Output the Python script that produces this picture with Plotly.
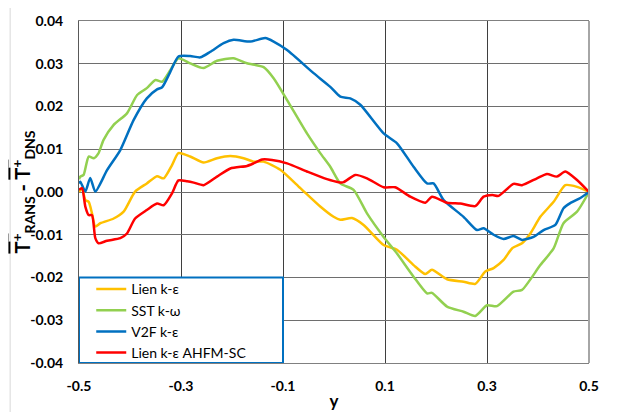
import plotly.graph_objects as go

# ---- data ----
lien_x = [-0.5, -0.494, -0.4876, -0.481, -0.4745, -0.468, -0.458, -0.432, -0.4125, -0.39, -0.367, -0.347,
          -0.334, -0.3176, -0.305, -0.282, -0.2557, -0.2294, -0.2033, -0.1773, -0.1576, -0.138, -0.1053,
          -0.066, -0.027, -0.0008, 0.0124, 0.0353, 0.058, 0.0973, 0.1235, 0.156, 0.179, 0.192, 0.2216,
          0.254, 0.277, 0.2967, 0.313, 0.3325, 0.349, 0.3686, 0.385, 0.4045, 0.4306, 0.4535, 0.4765, 0.5]
lien_y = [0.0, 0.0009, -0.0019, -0.0023, -0.005, -0.0081, -0.0073, -0.0062, -0.0046, 0.0001, 0.002, 0.0037,
          0.0032, 0.0063, 0.0091, 0.0083, 0.0069, 0.0079, 0.0084, 0.0079, 0.0071, 0.0071, 0.0052,
          0.0009, -0.0034, -0.0058, -0.0065, -0.0061, -0.0077, -0.0124, -0.0135, -0.0171, -0.0192, -0.0182, -0.0204,
          -0.0210, -0.0215, -0.0186, -0.0178, -0.0159, -0.0132, -0.0120, -0.0097, -0.0058, -0.0023, 0.0016, 0.0012, 0.0]

sst_x = [-0.5, -0.4975, -0.491, -0.481, -0.471, -0.4616, -0.4518, -0.432, -0.406, -0.386, -0.367, -0.350,
         -0.337, -0.321, -0.305, -0.282, -0.2557, -0.2294, -0.197, -0.1706, -0.138, -0.1184, -0.092, -0.053,
         -0.027, -0.0073, 0.0124, 0.0384, 0.0647, 0.0973, 0.1235, 0.156, 0.1824, 0.192, 0.2216, 0.254, 0.277,
         0.300, 0.3196, 0.352, 0.3686, 0.4045, 0.4306, 0.450, 0.4765, 0.5]
sst_y = [0.003, 0.0036, 0.004, 0.0083, 0.0079, 0.0091, 0.0122, 0.0157, 0.0184, 0.0227, 0.0243, 0.0262,
         0.0258, 0.0285, 0.0313, 0.0301, 0.029, 0.0307, 0.0313, 0.0301, 0.0292, 0.0266, 0.0215, 0.0137,
         0.0091, 0.0059, 0.002, 0.0005, -0.005, -0.0105, -0.0144, -0.0198, -0.0237, -0.0236, -0.0268, -0.0280, -0.0290,
         -0.0265, -0.0267, -0.0233, -0.0229, -0.0171, -0.0132, -0.0073, -0.0046, 0.0]

v2f_x = [-0.5, -0.4975, -0.4876, -0.478, -0.468, -0.445, -0.419, -0.393, -0.367, -0.347, -0.337, -0.321,
         -0.305, -0.282, -0.262, -0.2425, -0.2165, -0.197, -0.164, -0.1347, -0.1184, -0.092, -0.040, -0.0073,
         0.0124, 0.032, 0.0516, 0.0973, 0.1235, 0.156, 0.1824, 0.1953, 0.215, 0.254, 0.2804, 0.2933, 0.313,
         0.3325, 0.352, 0.3686, 0.3914, 0.411, 0.434, 0.450, 0.4633, 0.483, 0.5]
v2f_y = [0.002, 0.0024, 0.0001, 0.0033, 0.0001, 0.0051, 0.0098, 0.0168, 0.0219, 0.024, 0.0245, 0.0281,
         0.0317, 0.0318, 0.0315, 0.0328, 0.0348, 0.0356, 0.0352, 0.036, 0.0352, 0.0332, 0.0278, 0.0246,
         0.0223, 0.0219, 0.0204, 0.0137, 0.0114, 0.0059, 0.002, 0.002, -0.0019, -0.0058, -0.0089, -0.0085, -0.0100,
         -0.0110, -0.0103, -0.0112, -0.0105, -0.0089, -0.0077, -0.0038, -0.0026, -0.0014, 0.0]

ahfm_x = [-0.5, -0.494, -0.4876, -0.481, -0.4745, -0.468, -0.4616, -0.445, -0.419, -0.406, -0.39, -0.367,
          -0.347, -0.334, -0.3176, -0.305, -0.288, -0.275, -0.2557, -0.2294, -0.2033, -0.1706, -0.1576, -0.141,
          -0.1216, -0.092, -0.053, -0.0137, 0.009, 0.0188, 0.0418, 0.0647, 0.0973, 0.120, 0.1496, 0.179, 0.192,
          0.2216, 0.2476, 0.277, 0.2933, 0.3104, 0.3227, 0.352, 0.3686, 0.398, 0.4176, 0.437, 0.4535, 0.4765, 0.5]
ahfm_y = [0.0005, 0.0009, -0.0034, -0.0054, -0.0054, -0.0108, -0.0120, -0.0114, -0.0108, -0.0097, -0.0062, -0.0042,
          -0.0027, -0.0031, -0.0003, 0.0027, 0.0025, 0.0022, 0.0016, 0.0036, 0.0055, 0.0061, 0.0067, 0.0076,
          0.0075, 0.0067, 0.0048, 0.0030, 0.0023, 0.0023, 0.004, 0.0032, 0.0011, 0.0011, -0.0011, -0.0025, -0.0011,
          -0.0025, -0.0027, -0.0033, -0.0011, -0.0007, -0.0009, 0.0019, 0.0016, 0.0032, 0.0042, 0.0036, 0.0048, 0.0028, 0.0]

series_names = ["Lien k-ε", "SST k-ω", "V2F k-ε", "Lien k-ε AHFM-SC"]
series_colors = ["#FFC000", "#92D050", "#0070C0", "#FF0000"]

x_tickvals = [-0.5, -0.3, -0.1, 0.1, 0.3, 0.5]
x_ticktext = ["-0.5", "-0.3", "-0.1", "0.1", "0.3", "0.5"]
y_tickvals = [0.04, 0.03, 0.02, 0.01, 0.0, -0.01, -0.02, -0.03, -0.04]
y_ticktext = ["0.04", "0.03", "0.02", "0.01", "0.00", "-0.01", "-0.02", "-0.03", "-0.04"]

FONT = "Lato"

fig = go.Figure()
for xs, ys, name, col in zip([lien_x, sst_x, v2f_x, ahfm_x], [lien_y, sst_y, v2f_y, ahfm_y],
                             series_names, series_colors):
    fig.add_trace(go.Scatter(x=xs, y=ys, name=name, mode="lines",
                             line=dict(color=col, width=2.5, shape="spline", smoothing=0.6)))

# legend box (Excel-style, white with blue border)
fig.add_shape(type="rect", xref="x", yref="y", x0=-0.5, x1=-0.1, y0=-0.04, y1=-0.02,
              fillcolor="white", line=dict(color="#0070C0", width=2), layer="above")
# right plot border (light grey)
fig.add_shape(type="line", xref="paper", yref="paper", x0=1, x1=1, y0=0, y1=1,
              line=dict(color="#A6A6A6", width=2), layer="above")
# outer chart-area border (left edge)
fig.add_shape(type="line", xref="paper", yref="paper", x0=-0.135, x1=-0.135, y0=-0.3, y1=1.1,
              line=dict(color="#D9D9D9", width=1), layer="below")

ytitle = ("<b><span style='text-decoration:overline'>T<sup>+</sup></span><sub>RANS</sub> - "
          "<span style='text-decoration:overline'>T<sup>+</sup></span><sub>DNS</sub></b>")

# page body has an 8px margin: plot area placed so it lands at the reference pixels
fig.update_layout(
    width=633, height=412,
    margin=dict(l=71, r=52, t=13, b=57, autoexpand=False),
    paper_bgcolor="white", plot_bgcolor="white",
    font=dict(family=FONT, color="#000000"),
    showlegend=True,
    legend=dict(x=0.024, y=0.262, xanchor="left", yanchor="top",
                bgcolor="rgba(0,0,0,0)", borderwidth=0,
                font=dict(family=FONT, size=14, color="#000000"),
                tracegroupgap=0),
)
fig.update_xaxes(
    range=[-0.5, 0.5], tickvals=x_tickvals, ticktext=x_ticktext, automargin=False,
    showgrid=True, gridcolor="#3F3F3F", gridwidth=1,
    showline=True, linecolor="#808080", linewidth=1, mirror=True,
    zeroline=False, ticks="", ticklabelstandoff=10,
    tickfont=dict(family=FONT, size=14, color="#000000", weight="bold"),
    title=dict(text="<b>y</b>", font=dict(family=FONT, size=17, color="#000000"), standoff=2),
)
fig.update_yaxes(
    range=[-0.04, 0.04], tickvals=y_tickvals, ticktext=y_ticktext, automargin=False,
    showgrid=True, gridcolor="#6E6E6E", gridwidth=1,
    showline=True, linecolor="#595959", linewidth=1, mirror=False,
    zeroline=False, ticks="", ticklabelstandoff=12,
    tickfont=dict(family=FONT, size=14, color="#000000", weight="bold"),
    title=dict(text=ytitle, font=dict(family=FONT, size=20, color="#000000"), standoff=0),
)

fig.write_html("out.html")
